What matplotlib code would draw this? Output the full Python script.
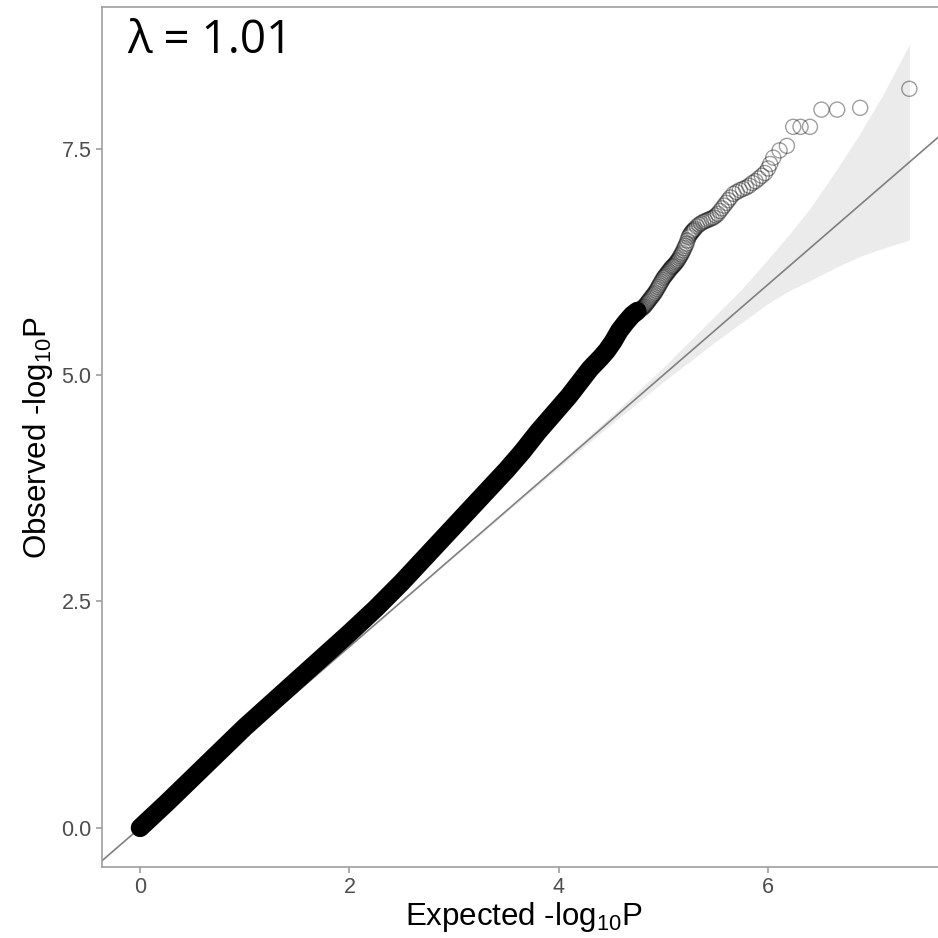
import matplotlib
matplotlib.use("Agg")
import matplotlib.pyplot as plt

plt.rcParams['font.family'] = ['Liberation Sans', 'DejaVu Sans']
plt.rcParams['mathtext.fontset'] = 'custom'
plt.rcParams['mathtext.rm'] = 'Liberation Sans'

# ---- data ----
# dense body of the QQ curve (expected vs observed -log10 P)
dense_expected = [0.0, 0.25, 0.5, 0.75, 1.0, 1.25, 1.5, 1.75, 2.0, 2.25, 2.5,
                  2.75, 3.0, 3.25, 3.5, 3.65, 3.8, 3.95, 4.1, 4.2, 4.3, 4.4,
                  4.46, 4.52, 4.58, 4.64, 4.70, 4.75]
dense_observed = [0.0, 0.27, 0.55, 0.83, 1.11, 1.37, 1.63, 1.89, 2.15, 2.42, 2.71,
                  3.02, 3.33, 3.64, 3.95, 4.15, 4.37, 4.57, 4.77, 4.92, 5.07, 5.19,
                  5.27, 5.37, 5.49, 5.58, 5.66, 5.705]

# sparser upper part, individual points
tail_expected = [4.76, 4.77, 4.78, 4.79,
                 4.80, 4.81, 4.82, 4.83, 4.84, 4.85, 4.86, 4.87, 4.88, 4.89,
                 4.90, 4.91, 4.92, 4.93, 4.94, 4.95, 4.96, 4.97, 4.98, 4.99,
                 5.00, 5.01, 5.02, 5.03, 5.04, 5.05, 5.06, 5.07, 5.08, 5.09,
                 5.10, 5.11, 5.12, 5.13, 5.14, 5.15, 5.16, 5.17, 5.18, 5.19,
                 5.20, 5.21, 5.22, 5.23, 5.24, 5.25, 5.26, 5.27, 5.28, 5.29,
                 5.30, 5.32, 5.34, 5.36, 5.38, 5.40, 5.42, 5.44, 5.46, 5.48,
                 5.50, 5.52, 5.54, 5.56, 5.58, 5.60, 5.62, 5.64, 5.67, 5.70,
                 5.73, 5.76, 5.79, 5.82, 5.85, 5.88, 5.91, 5.94, 5.97, 6.00,
                 6.02, 6.05, 6.11, 6.18, 6.24, 6.31, 6.40, 6.51, 6.66, 6.88, 7.35]
tail_observed = [5.71, 5.72, 5.725, 5.73,
                 5.74, 5.75, 5.76, 5.775, 5.79, 5.805, 5.82, 5.835, 5.85, 5.865,
                 5.88, 5.895, 5.91, 5.93, 5.95, 5.97, 5.99, 6.01, 6.03, 6.05,
                 6.07, 6.085, 6.10, 6.115, 6.13, 6.145, 6.16, 6.175, 6.19, 6.20,
                 6.21, 6.225, 6.24, 6.255, 6.27, 6.29, 6.31, 6.33, 6.35, 6.375,
                 6.40, 6.425, 6.45, 6.485, 6.52, 6.54, 6.56, 6.575, 6.59, 6.60,
                 6.615, 6.64, 6.66, 6.675, 6.69, 6.70, 6.71, 6.72, 6.73, 6.74,
                 6.76, 6.78, 6.81, 6.84, 6.87, 6.90, 6.93, 6.96, 7.00, 7.02,
                 7.04, 7.055, 7.07, 7.09, 7.12, 7.14, 7.17, 7.20, 7.23, 7.28,
                 7.33, 7.40, 7.48, 7.53, 7.74, 7.74, 7.74, 7.93, 7.93, 7.95, 8.16]

# 95% confidence band around the null
band_expected = [0.0, 2.0, 3.0, 3.5, 4.0, 4.5, 5.0, 5.5, 5.75, 6.0, 6.2, 6.4,
                 6.65, 6.88, 7.1, 7.35]
band_lower = [0.0, 1.997, 2.992, 3.486, 3.975, 4.455, 4.925, 5.37, 5.58, 5.79,
              5.93, 6.04, 6.19, 6.31, 6.40, 6.49]
band_upper = [0.0, 2.003, 3.008, 3.514, 4.026, 4.548, 5.085, 5.66, 5.95, 6.28,
              6.55, 6.84, 7.26, 7.67, 8.10, 8.65]

lambda_text = "\u03bb = 1.01"

# ---- figure ----
fig = plt.figure(figsize=(9.38, 9.38), dpi=100)
ax = fig.add_axes([101.7 / 938, (938 - 866.7) / 938, (946 - 101.7) / 938, (866.7 - 7.3) / 938])

ax.fill_between(band_expected, band_lower, band_upper, color='#EBEBEB', lw=0, zorder=1)
ax.axline((0, 0), slope=1, color='#808080', lw=1.2, zorder=2)

ax.plot(dense_expected, dense_observed, color='black', lw=13.5,
        solid_capstyle='round', solid_joinstyle='round', zorder=3)
ax.scatter(tail_expected, tail_observed, s=118, facecolors='none',
           edgecolors=(0, 0, 0, 0.38), linewidths=1.0, zorder=4)

ax.set_xlim(-0.367, 7.70)
ax.set_ylim(-0.43, 9.06)
ax.set_xticks([0, 2, 4, 6])
ax.set_xticklabels(['0', '2', '4', '6'])
ax.set_yticks([0, 2.5, 5.0, 7.5])
ax.set_yticklabels(['0.0', '2.5', '5.0', '7.5'])

for s in ax.spines.values():
    s.set_color('#9E9E9E')
    s.set_linewidth(1.2)
ax.tick_params(axis='both', colors='#9E9E9E', length=4.5, width=1.2,
               labelsize=15.5, labelcolor='#4D4D4D', pad=3)

ax.set_xlabel('Expected -log$_{\\mathregular{10}}$P', fontsize=22.5, color='black', labelpad=1)
ax.set_ylabel('Observed -log$_{\\mathregular{10}}$P', fontsize=22.5, color='black', labelpad=4)

ax.text(-0.12, 8.55, lambda_text, fontsize=33, family=['Open Sans', 'DejaVu Sans'],
        ha='left', va='baseline', color='black', zorder=5)

fig.savefig('out.png', dpi=100)
